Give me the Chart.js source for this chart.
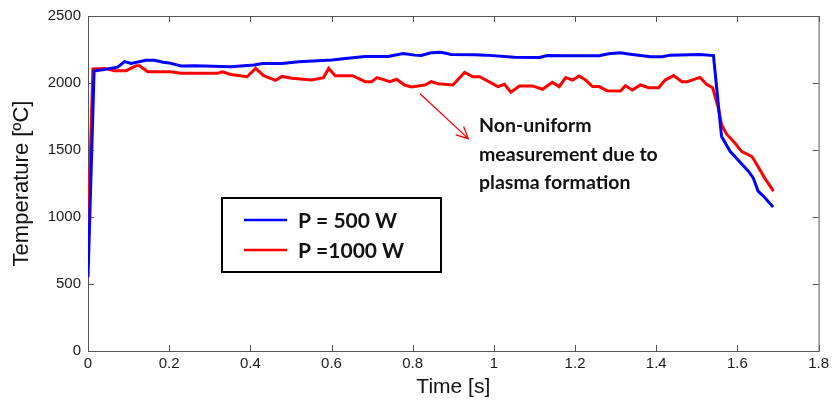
<!DOCTYPE html>
<html>
<head>
<meta charset="utf-8">
<script src="https://cdn.jsdelivr.net/npm/chart.js@4.4.1/dist/chart.umd.min.js"></script>
<style>
  html, body { margin: 0; padding: 0; background: #fff; }
  canvas { display: block; }
</style>
</head>
<body>
<canvas id="grafik" width="833" height="400"></canvas>
<script>
// P = 500 W
const zaman500 = [0, 0.015, 0.04, 0.073, 0.09, 0.106, 0.143, 0.164, 0.185, 0.2, 0.229, 0.262, 0.352, 0.409, 0.43, 0.478,
  0.519, 0.601, 0.634, 0.683, 0.74, 0.776, 0.805, 0.821, 0.845, 0.87, 0.895, 0.953, 0.98, 1.051, 1.112, 1.132,
  1.177, 1.259, 1.283, 1.311, 1.336, 1.386, 1.415, 1.435, 1.507, 1.541, 1.561, 1.582, 1.627, 1.639, 1.651, 1.664, 1.688];
const sicaklik500 = [550, 2089, 2100, 2118, 2160, 2146, 2170, 2170, 2155, 2150, 2127, 2129, 2121, 2134, 2146, 2146,
  2158, 2171, 2183, 2198, 2198, 2220, 2208, 2205, 2225, 2230, 2213, 2210, 2208, 2192, 2190, 2205,
  2203, 2203, 2218, 2225, 2215, 2196, 2196, 2208, 2213, 2205, 1600, 1490, 1342, 1292, 1193, 1156, 1074];

// P = 1000 W
const zaman1000 = [0, 0.012, 0.041, 0.065, 0.094, 0.119, 0.127, 0.147, 0.204, 0.229, 0.319, 0.331, 0.352, 0.392,
  0.413, 0.433, 0.462, 0.478, 0.502, 0.551, 0.58, 0.593, 0.609, 0.652, 0.683, 0.699, 0.712, 0.744, 0.76, 0.78,
  0.797, 0.83, 0.846, 0.862, 0.899, 0.928, 0.948, 0.965, 1.01, 1.026, 1.042, 1.063, 1.095, 1.12, 1.144, 1.161,
  1.177, 1.194, 1.21, 1.226, 1.243, 1.259, 1.279, 1.312, 1.324, 1.341, 1.361, 1.382, 1.406, 1.422, 1.443,
  1.463, 1.476, 1.508, 1.524, 1.539, 1.553, 1.561, 1.574, 1.594, 1.61, 1.635, 1.643, 1.667, 1.689];
const sicaklik1000 = [850, 2105, 2109, 2092, 2092, 2129, 2129, 2084, 2084, 2072, 2072, 2084, 2064, 2047,
  2109, 2055, 2020, 2049, 2035, 2022, 2040, 2109, 2055, 2055, 2010, 2010, 2040, 2010, 2028, 1985,
  1970, 1985, 2010, 1995, 1985, 2079, 2047, 2047, 1973, 1990, 1931, 1978, 1978, 1953, 2005, 1973,
  2040, 2022, 2052, 2022, 1973, 1973, 1943, 1941, 1980, 1948, 1985, 1965, 1965, 2022, 2055,
  2010, 2010, 2042, 1990, 1965, 1812, 1688, 1616, 1552, 1490, 1453, 1416, 1292, 1193];

const xTikler = [0, 0.2, 0.4, 0.6, 0.8, 1, 1.2, 1.4, 1.6, 1.8];
const yTikler = [0, 500, 1000, 1500, 2000, 2500];
const seriAdlari = ["P = 500 W", "P =1000 W"];
const seriRenkleri = ["#0000ff", "#ff0000"];
const notSatirlari = ["Non-uniform", "measurement due to", "plasma formation"];

const noktalar = (xs, ys) => xs.map((x, i) => ({ x: x, y: ys[i] }));

// Çerçeve ve içe dönük tikler (MATLAB tarzı)
const cerceve = {
  id: "cerceve",
  beforeDatasetsDraw(chart) {
    const { ctx, chartArea: a, scales } = chart;
    ctx.save();
    ctx.strokeStyle = "#555";
    ctx.lineWidth = 1;
    ctx.strokeRect(a.left + 0.5, a.top + 0.5, a.right - a.left, a.bottom - a.top);
    ctx.beginPath();
    xTikler.forEach((t) => {
      const px = Math.round(scales.x.getPixelForValue(t)) + 0.5;
      ctx.moveTo(px, a.bottom); ctx.lineTo(px, a.bottom - 6);
      ctx.moveTo(px, a.top); ctx.lineTo(px, a.top + 6);
    });
    yTikler.forEach((v) => {
      const py = Math.round(scales.y.getPixelForValue(v)) + 0.5;
      ctx.moveTo(a.left, py); ctx.lineTo(a.left + 6, py);
      ctx.moveTo(a.right, py); ctx.lineTo(a.right - 6, py);
    });
    ctx.stroke();
    ctx.restore();
  },
};

// Kutu içindeki lejant ve kırmızı ok ile not
const ekler = {
  id: "ekler",
  afterDraw(chart) {
    const { ctx, scales } = chart;
    ctx.save();

    // lejant kutusu
    ctx.strokeStyle = "#000";
    ctx.lineWidth = 2;
    ctx.strokeRect(222, 198, 219, 74);
    ctx.font = "bold 21px Lato, 'Open Sans', sans-serif";
    ctx.textBaseline = "middle";
    ctx.fillStyle = "#111";
    seriAdlari.forEach((ad, i) => {
      const y = 220 + i * 30;
      ctx.strokeStyle = seriRenkleri[i];
      ctx.lineWidth = 2.5;
      ctx.beginPath();
      ctx.moveTo(244, y); ctx.lineTo(287, y);
      ctx.stroke();
      ctx.fillText(ad, 298, y + 1);
    });

    // ok
    const x1 = scales.x.getPixelForValue(0.818), y1 = scales.y.getPixelForValue(1920);
    const x2 = scales.x.getPixelForValue(0.937), y2 = scales.y.getPixelForValue(1585);
    const aci = Math.atan2(y2 - y1, x2 - x1);
    ctx.strokeStyle = "#ff0000";
    ctx.lineWidth = 1.3;
    ctx.beginPath();
    ctx.moveTo(x1, y1); ctx.lineTo(x2, y2);
    ctx.moveTo(x2 - 13 * Math.cos(aci - 0.45), y2 - 13 * Math.sin(aci - 0.45));
    ctx.lineTo(x2, y2);
    ctx.lineTo(x2 - 13 * Math.cos(aci + 0.45), y2 - 13 * Math.sin(aci + 0.45));
    ctx.stroke();

    // not
    ctx.fillStyle = "#111";
    ctx.font = "bold 19.5px Lato, 'Open Sans', sans-serif";
    notSatirlari.forEach((s, i) => ctx.fillText(s, 479, 126 + i * 28.5));
    ctx.restore();
  },
};

const ctx = document.getElementById("grafik").getContext("2d");
new Chart(ctx, {
  type: "line",
  data: {
    datasets: [
      {
        label: seriAdlari[0],
        data: noktalar(zaman500, sicaklik500),
        borderColor: seriRenkleri[0],
        borderWidth: 3,
        pointRadius: 0,
        tension: 0,
      },
      {
        label: seriAdlari[1],
        data: noktalar(zaman1000, sicaklik1000),
        borderColor: seriRenkleri[1],
        borderWidth: 3,
        pointRadius: 0,
        tension: 0,
      },
    ],
  },
  options: {
    responsive: false,
    animation: false,
    events: [],
    layout: { padding: { left: 0, right: 11, top: 14, bottom: 0 } },
    plugins: {
      legend: { display: false },
      tooltip: { enabled: false },
    },
    scales: {
      x: {
        type: "linear",
        min: 0,
        max: 1.8,
        afterBuildTicks: (s) => { s.ticks = xTikler.map((v) => ({ value: v })); },
        afterFit: (s) => { s.height = 49; },
        grid: { display: false, drawTicks: false },
        border: { display: false },
        ticks: {
          autoSkip: false,
          padding: 4,
          color: "#1a1a1a",
          font: { family: "'Liberation Sans', Arial, sans-serif", size: 15 },
          maxRotation: 0,
          callback: (v) => String(v),
        },
        title: {
          display: true,
          text: "Time [s]",
          color: "#111",
          font: { family: "'Liberation Sans', Arial, sans-serif", size: 21 },
          padding: { top: 0, bottom: 0 },
        },
      },
      y: {
        min: 0,
        max: 2500,
        afterBuildTicks: (s) => { s.ticks = yTikler.map((v) => ({ value: v })); },
        afterFit: (s) => { s.width = 88; },
        grid: { display: false, drawTicks: false },
        border: { display: false },
        ticks: {
          autoSkip: false,
          padding: 7,
          color: "#1a1a1a",
          font: { family: "'Liberation Sans', Arial, sans-serif", size: 15 },
          callback: (v) => String(v),
        },
        title: {
          display: true,
          text: "Temperature [ºC]",
          color: "#111",
          font: { family: "'Liberation Sans', Arial, sans-serif", size: 22 },
          padding: { top: 9, bottom: 0 },
        },
      },
    },
  },
  plugins: [cerceve, ekler],
});
</script>
</body>
</html>
